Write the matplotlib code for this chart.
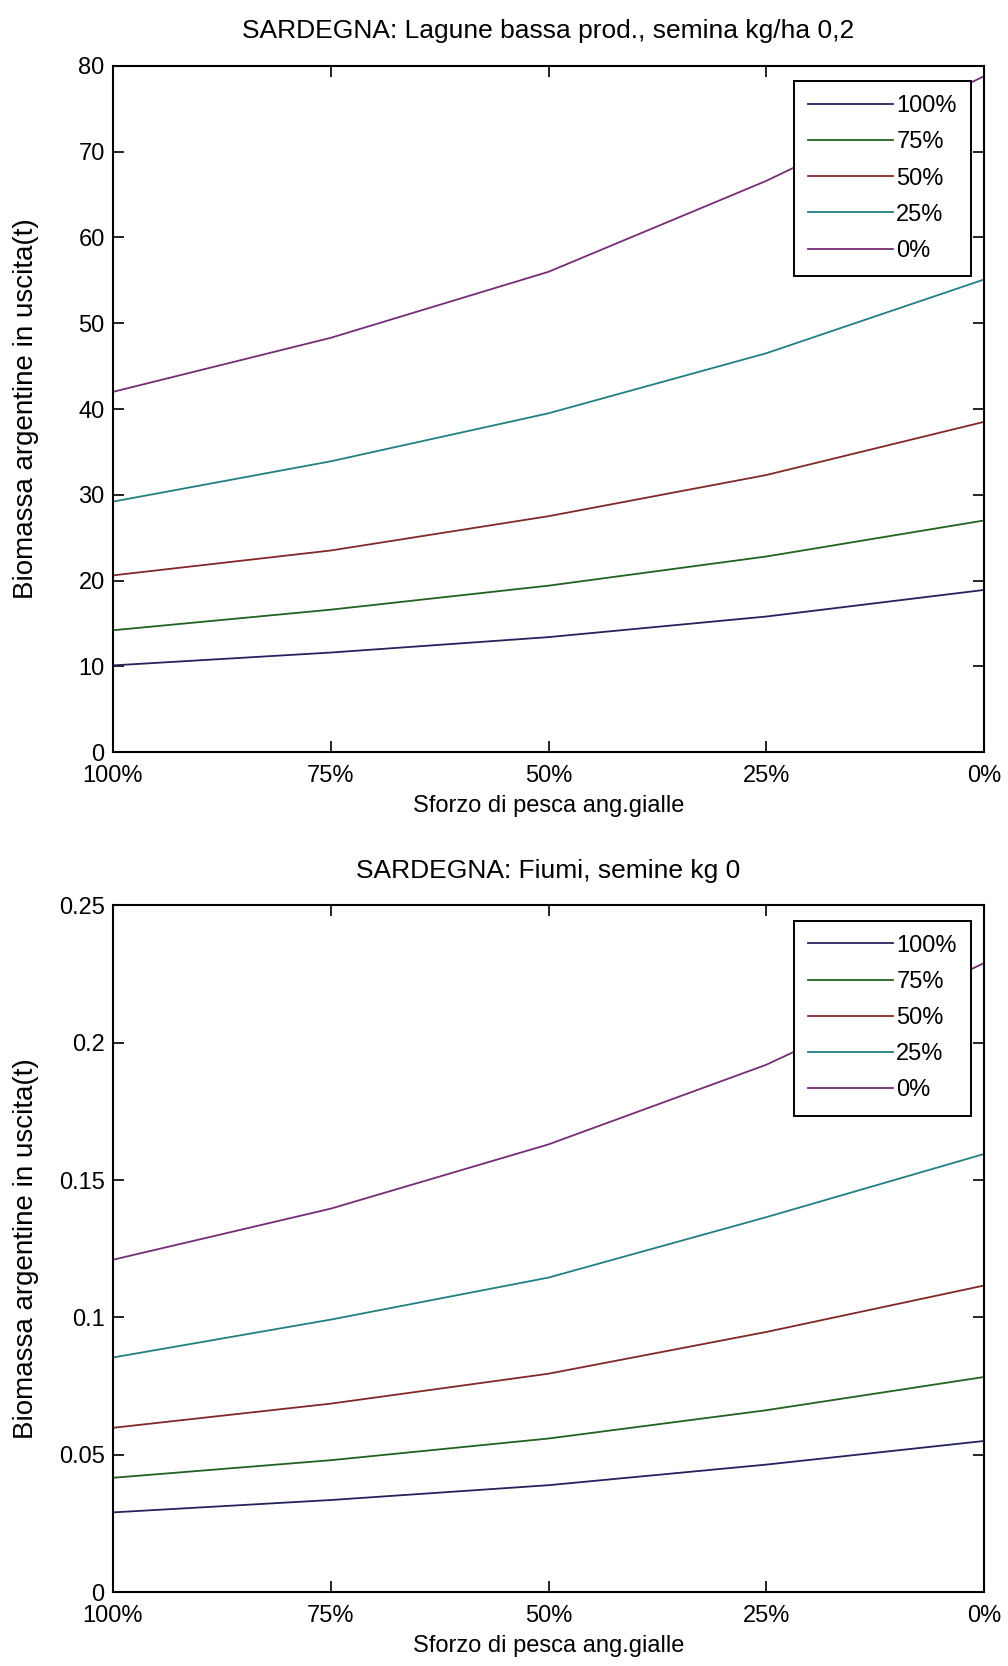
import numpy as np
import matplotlib
matplotlib.use("Agg")
import matplotlib.pyplot as plt

# ============================
# Data
# ============================
x_labels = ["100%", "75%", "50%", "25%", "0%"]
series_labels = ["100%", "75%", "50%", "25%", "0%"]

# SARDEGNA: Lagune bassa prod.
lagune_100 = [10.1, 11.6, 13.4, 15.8, 18.9]
lagune_75 = [14.2, 16.6, 19.4, 22.8, 27.0]
lagune_50 = [20.6, 23.5, 27.5, 32.3, 38.5]
lagune_25 = [29.2, 33.9, 39.5, 46.5, 55.1]
lagune_0 = [42.0, 48.3, 56.0, 66.6, 78.8]

# SARDEGNA: Fiumi
fiumi_100 = [0.029, 0.0335, 0.0389, 0.0464, 0.055]
fiumi_75 = [0.0416, 0.048, 0.0559, 0.0662, 0.0783]
fiumi_50 = [0.0598, 0.0686, 0.0795, 0.0947, 0.1116]
fiumi_25 = [0.0854, 0.0992, 0.1145, 0.1365, 0.1595]
fiumi_0 = [0.121, 0.1396, 0.163, 0.192, 0.229]

colors = ["#23235e", "#226222", "#822828", "#228080", "#762c76"]

plt.rcParams["font.family"] = ["Liberation Sans", "DejaVu Sans"]

fig = plt.figure(figsize=(10.08, 16.66), dpi=100)
ax1 = fig.add_axes([0.1121, 0.5486, 0.8641, 0.4118])
ax2 = fig.add_axes([0.1121, 0.0444, 0.8641, 0.4121])

xpos = np.arange(len(x_labels))


def draw(ax, data, title, ymax, yticks, yticklabels):
    for vals, lab, c in zip(data, series_labels, colors):
        ax.plot(xpos, vals, color=c, lw=1.3, label=lab)
    ax.set_xlim(0, 4)
    ax.set_ylim(0, ymax)
    ax.set_xticks(xpos)
    ax.set_xticklabels(x_labels)
    ax.set_yticks(yticks)
    ax.set_yticklabels(yticklabels)
    ax.tick_params(direction="in", length=8, width=1.2, labelsize=17,
                   top=True, right=True)
    ax.tick_params(axis="x", pad=9)
    ax.tick_params(axis="y", pad=6)
    for s in ax.spines.values():
        s.set_linewidth(1.5)
    ax.set_title(title, fontsize=19, pad=20)
    ax.set_xlabel("Sforzo di pesca ang.gialle", fontsize=17, labelpad=6)
    ax.set_ylabel("Biomassa argentine in uscita(t)", fontsize=20)
    ax.yaxis.set_label_coords(-0.085, 0.5)
    leg = ax.legend(loc="upper right", bbox_to_anchor=(0.985, 0.978),
                    fontsize=17, frameon=True, fancybox=False, framealpha=1,
                    handlelength=3.6, handletextpad=0.15, labelspacing=0.6,
                    borderpad=0.6, borderaxespad=0.0)
    leg.get_frame().set_edgecolor("black")
    leg.get_frame().set_linewidth(1.4)


draw(ax1, [lagune_100, lagune_75, lagune_50, lagune_25, lagune_0],
     "SARDEGNA: Lagune bassa prod., semina kg/ha 0,2", 80,
     np.arange(0, 81, 10), [str(v) for v in range(0, 81, 10)])

draw(ax2, [fiumi_100, fiumi_75, fiumi_50, fiumi_25, fiumi_0],
     "SARDEGNA: Fiumi, semine kg 0", 0.25,
     [0, 0.05, 0.1, 0.15, 0.2, 0.25], ["0", "0.05", "0.1", "0.15", "0.2", "0.25"])

fig.savefig("out.png", dpi=100)
